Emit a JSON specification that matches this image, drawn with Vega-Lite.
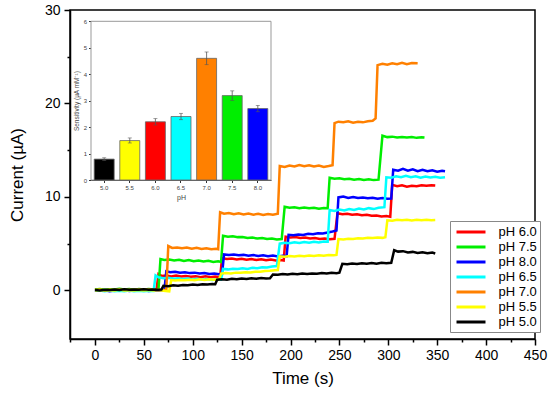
{
"$schema":"https://vega.github.io/schema/vega-lite/v6.json",
"width":465,"height":329,
"autosize":{"type":"none"},
"padding":{"left":70,"top":10,"right":15,"bottom":54},
"config":{
 "view":{"stroke":"#000","strokeWidth":1.5},
 "axis":{"grid":false,"labelFont":"Liberation Sans","titleFont":"Liberation Sans","labelColor":"#000","titleColor":"#000","titleFontWeight":"normal"},
 "legend":{"labelFont":"Liberation Sans"}
},
"layer":[
{
 "data":{"values":[
{"s":"pH 6.0","t":0,"c":0.05},{"s":"pH 6.0","t":5,"c":0.1},{"s":"pH 6.0","t":10,"c":0.0},{"s":"pH 6.0","t":15,"c":0.08},{"s":"pH 6.0","t":20,"c":0.05},{"s":"pH 6.0","t":25,"c":0.12},{"s":"pH 6.0","t":30,"c":0.06},{"s":"pH 6.0","t":35,"c":0.1},{"s":"pH 6.0","t":40,"c":0.05},{"s":"pH 6.0","t":45,"c":0.12},{"s":"pH 6.0","t":50,"c":0.08},{"s":"pH 6.0","t":55,"c":0.1},{"s":"pH 6.0","t":60,"c":0.06},{"s":"pH 6.0","t":63,"c":0.1},
{"s":"pH 6.0","t":65,"c":1.75},{"s":"pH 6.0","t":68,"c":1.55},{"s":"pH 6.0","t":73,"c":1.6},{"s":"pH 6.0","t":78,"c":1.5},{"s":"pH 6.0","t":83,"c":1.58},{"s":"pH 6.0","t":88,"c":1.48},{"s":"pH 6.0","t":93,"c":1.55},{"s":"pH 6.0","t":98,"c":1.45},{"s":"pH 6.0","t":103,"c":1.52},{"s":"pH 6.0","t":108,"c":1.42},{"s":"pH 6.0","t":113,"c":1.5},{"s":"pH 6.0","t":118,"c":1.4},{"s":"pH 6.0","t":123,"c":1.48},{"s":"pH 6.0","t":128,"c":1.42},
{"s":"pH 6.0","t":130,"c":3.45},{"s":"pH 6.0","t":135,"c":3.35},{"s":"pH 6.0","t":140,"c":3.4},{"s":"pH 6.0","t":145,"c":3.3},{"s":"pH 6.0","t":150,"c":3.38},{"s":"pH 6.0","t":155,"c":3.28},{"s":"pH 6.0","t":160,"c":3.35},{"s":"pH 6.0","t":165,"c":3.25},{"s":"pH 6.0","t":170,"c":3.32},{"s":"pH 6.0","t":175,"c":3.22},{"s":"pH 6.0","t":180,"c":3.3},{"s":"pH 6.0","t":185,"c":3.2},{"s":"pH 6.0","t":190,"c":3.26},{"s":"pH 6.0","t":193,"c":3.2},
{"s":"pH 6.0","t":195,"c":5.75},{"s":"pH 6.0","t":200,"c":5.65},{"s":"pH 6.0","t":205,"c":5.7},{"s":"pH 6.0","t":210,"c":5.6},{"s":"pH 6.0","t":215,"c":5.66},{"s":"pH 6.0","t":220,"c":5.55},{"s":"pH 6.0","t":225,"c":5.6},{"s":"pH 6.0","t":230,"c":5.5},{"s":"pH 6.0","t":235,"c":5.56},{"s":"pH 6.0","t":240,"c":5.48},{"s":"pH 6.0","t":245,"c":5.52},
{"s":"pH 6.0","t":248,"c":8.25},{"s":"pH 6.0","t":253,"c":8.15},{"s":"pH 6.0","t":258,"c":8.2},{"s":"pH 6.0","t":263,"c":8.1},{"s":"pH 6.0","t":268,"c":8.15},{"s":"pH 6.0","t":273,"c":8.05},{"s":"pH 6.0","t":278,"c":8.1},{"s":"pH 6.0","t":283,"c":8.0},{"s":"pH 6.0","t":288,"c":8.02},{"s":"pH 6.0","t":293,"c":7.92},{"s":"pH 6.0","t":298,"c":7.95},{"s":"pH 6.0","t":302,"c":7.88},
{"s":"pH 6.0","t":304,"c":11.3},{"s":"pH 6.0","t":309,"c":11.15},{"s":"pH 6.0","t":314,"c":11.25},{"s":"pH 6.0","t":319,"c":11.1},{"s":"pH 6.0","t":324,"c":11.2},{"s":"pH 6.0","t":329,"c":11.15},{"s":"pH 6.0","t":334,"c":11.25},{"s":"pH 6.0","t":339,"c":11.2},{"s":"pH 6.0","t":344,"c":11.25},{"s":"pH 6.0","t":348,"c":11.22},
{"s":"pH 7.5","t":0,"c":0.1},{"s":"pH 7.5","t":5,"c":0.15},{"s":"pH 7.5","t":10,"c":0.08},{"s":"pH 7.5","t":15,"c":0.12},{"s":"pH 7.5","t":20,"c":0.1},{"s":"pH 7.5","t":25,"c":0.18},{"s":"pH 7.5","t":30,"c":0.1},{"s":"pH 7.5","t":35,"c":0.15},{"s":"pH 7.5","t":40,"c":0.08},{"s":"pH 7.5","t":45,"c":0.14},{"s":"pH 7.5","t":50,"c":0.1},{"s":"pH 7.5","t":55,"c":0.15},{"s":"pH 7.5","t":60,"c":0.1},{"s":"pH 7.5","t":65,"c":0.12},
{"s":"pH 7.5","t":67,"c":3.35},{"s":"pH 7.5","t":71,"c":3.25},{"s":"pH 7.5","t":76,"c":3.3},{"s":"pH 7.5","t":81,"c":3.2},{"s":"pH 7.5","t":86,"c":3.28},{"s":"pH 7.5","t":91,"c":3.15},{"s":"pH 7.5","t":96,"c":3.25},{"s":"pH 7.5","t":101,"c":3.12},{"s":"pH 7.5","t":106,"c":3.2},{"s":"pH 7.5","t":111,"c":3.1},{"s":"pH 7.5","t":116,"c":3.18},{"s":"pH 7.5","t":121,"c":3.05},{"s":"pH 7.5","t":126,"c":3.12},{"s":"pH 7.5","t":129,"c":3.05},
{"s":"pH 7.5","t":131,"c":5.85},{"s":"pH 7.5","t":136,"c":5.75},{"s":"pH 7.5","t":141,"c":5.8},{"s":"pH 7.5","t":146,"c":5.7},{"s":"pH 7.5","t":151,"c":5.72},{"s":"pH 7.5","t":156,"c":5.6},{"s":"pH 7.5","t":161,"c":5.65},{"s":"pH 7.5","t":166,"c":5.55},{"s":"pH 7.5","t":171,"c":5.6},{"s":"pH 7.5","t":176,"c":5.5},{"s":"pH 7.5","t":181,"c":5.55},{"s":"pH 7.5","t":186,"c":5.45},{"s":"pH 7.5","t":191,"c":5.5},
{"s":"pH 7.5","t":194,"c":8.95},{"s":"pH 7.5","t":199,"c":8.85},{"s":"pH 7.5","t":204,"c":8.9},{"s":"pH 7.5","t":209,"c":8.8},{"s":"pH 7.5","t":214,"c":8.88},{"s":"pH 7.5","t":219,"c":8.78},{"s":"pH 7.5","t":224,"c":8.85},{"s":"pH 7.5","t":229,"c":8.75},{"s":"pH 7.5","t":234,"c":8.82},{"s":"pH 7.5","t":238,"c":8.8},
{"s":"pH 7.5","t":240,"c":12.05},{"s":"pH 7.5","t":245,"c":11.95},{"s":"pH 7.5","t":250,"c":12.0},{"s":"pH 7.5","t":255,"c":11.9},{"s":"pH 7.5","t":260,"c":11.95},{"s":"pH 7.5","t":265,"c":11.85},{"s":"pH 7.5","t":270,"c":11.92},{"s":"pH 7.5","t":275,"c":11.82},{"s":"pH 7.5","t":280,"c":11.9},{"s":"pH 7.5","t":285,"c":11.8},{"s":"pH 7.5","t":290,"c":11.85},
{"s":"pH 7.5","t":294,"c":16.55},{"s":"pH 7.5","t":299,"c":16.4},{"s":"pH 7.5","t":304,"c":16.45},{"s":"pH 7.5","t":309,"c":16.35},{"s":"pH 7.5","t":314,"c":16.42},{"s":"pH 7.5","t":319,"c":16.35},{"s":"pH 7.5","t":324,"c":16.4},{"s":"pH 7.5","t":329,"c":16.32},{"s":"pH 7.5","t":334,"c":16.38},{"s":"pH 7.5","t":337,"c":16.35},
{"s":"pH 8.0","t":0,"c":0.0},{"s":"pH 8.0","t":5,"c":-0.05},{"s":"pH 8.0","t":10,"c":0.02},{"s":"pH 8.0","t":15,"c":-0.08},{"s":"pH 8.0","t":20,"c":0.0},{"s":"pH 8.0","t":25,"c":-0.05},{"s":"pH 8.0","t":30,"c":0.03},{"s":"pH 8.0","t":35,"c":-0.06},{"s":"pH 8.0","t":40,"c":0.0},{"s":"pH 8.0","t":45,"c":-0.04},{"s":"pH 8.0","t":50,"c":0.02},{"s":"pH 8.0","t":55,"c":-0.06},{"s":"pH 8.0","t":60,"c":0.0},{"s":"pH 8.0","t":65,"c":-0.04},{"s":"pH 8.0","t":71,"c":0.0},
{"s":"pH 8.0","t":73,"c":2.05},{"s":"pH 8.0","t":77,"c":1.95},{"s":"pH 8.0","t":82,"c":2.0},{"s":"pH 8.0","t":87,"c":1.9},{"s":"pH 8.0","t":92,"c":1.95},{"s":"pH 8.0","t":97,"c":1.85},{"s":"pH 8.0","t":102,"c":1.9},{"s":"pH 8.0","t":107,"c":1.8},{"s":"pH 8.0","t":112,"c":1.85},{"s":"pH 8.0","t":117,"c":1.75},{"s":"pH 8.0","t":122,"c":1.8},{"s":"pH 8.0","t":127,"c":1.72},{"s":"pH 8.0","t":130,"c":1.75},
{"s":"pH 8.0","t":132,"c":3.85},{"s":"pH 8.0","t":137,"c":3.8},{"s":"pH 8.0","t":142,"c":3.85},{"s":"pH 8.0","t":147,"c":3.75},{"s":"pH 8.0","t":152,"c":3.8},{"s":"pH 8.0","t":157,"c":3.7},{"s":"pH 8.0","t":162,"c":3.78},{"s":"pH 8.0","t":167,"c":3.68},{"s":"pH 8.0","t":172,"c":3.75},{"s":"pH 8.0","t":177,"c":3.65},{"s":"pH 8.0","t":182,"c":3.72},{"s":"pH 8.0","t":187,"c":3.64},{"s":"pH 8.0","t":192,"c":3.7},{"s":"pH 8.0","t":196,"c":3.66},
{"s":"pH 8.0","t":198,"c":5.95},{"s":"pH 8.0","t":203,"c":5.9},{"s":"pH 8.0","t":208,"c":5.98},{"s":"pH 8.0","t":213,"c":5.92},{"s":"pH 8.0","t":218,"c":6.05},{"s":"pH 8.0","t":223,"c":6.0},{"s":"pH 8.0","t":228,"c":6.12},{"s":"pH 8.0","t":233,"c":6.08},{"s":"pH 8.0","t":238,"c":6.2},{"s":"pH 8.0","t":243,"c":6.3},{"s":"pH 8.0","t":247,"c":6.4},
{"s":"pH 8.0","t":249,"c":9.95},{"s":"pH 8.0","t":254,"c":10.05},{"s":"pH 8.0","t":259,"c":9.9},{"s":"pH 8.0","t":264,"c":10.0},{"s":"pH 8.0","t":269,"c":9.88},{"s":"pH 8.0","t":274,"c":9.95},{"s":"pH 8.0","t":279,"c":9.85},{"s":"pH 8.0","t":284,"c":9.92},{"s":"pH 8.0","t":289,"c":9.8},{"s":"pH 8.0","t":294,"c":9.88},{"s":"pH 8.0","t":299,"c":9.8},{"s":"pH 8.0","t":303,"c":9.82},
{"s":"pH 8.0","t":305,"c":12.9},{"s":"pH 8.0","t":310,"c":12.8},{"s":"pH 8.0","t":315,"c":13.0},{"s":"pH 8.0","t":320,"c":12.8},{"s":"pH 8.0","t":325,"c":12.95},{"s":"pH 8.0","t":330,"c":12.75},{"s":"pH 8.0","t":335,"c":12.9},{"s":"pH 8.0","t":340,"c":12.75},{"s":"pH 8.0","t":345,"c":12.85},{"s":"pH 8.0","t":350,"c":12.7},{"s":"pH 8.0","t":355,"c":12.8},{"s":"pH 8.0","t":358,"c":12.75},
{"s":"pH 6.5","t":0,"c":-0.05},{"s":"pH 6.5","t":5,"c":0.0},{"s":"pH 6.5","t":10,"c":-0.08},{"s":"pH 6.5","t":15,"c":-0.02},{"s":"pH 6.5","t":20,"c":-0.1},{"s":"pH 6.5","t":25,"c":-0.04},{"s":"pH 6.5","t":30,"c":-0.08},{"s":"pH 6.5","t":35,"c":-0.02},{"s":"pH 6.5","t":40,"c":-0.1},{"s":"pH 6.5","t":45,"c":-0.05},{"s":"pH 6.5","t":50,"c":-0.08},{"s":"pH 6.5","t":55,"c":-0.03},{"s":"pH 6.5","t":60,"c":-0.05},
{"s":"pH 6.5","t":62,"c":1.6},{"s":"pH 6.5","t":65,"c":1.4},{"s":"pH 6.5","t":70,"c":1.3},{"s":"pH 6.5","t":75,"c":1.35},{"s":"pH 6.5","t":80,"c":1.25},{"s":"pH 6.5","t":85,"c":1.3},{"s":"pH 6.5","t":90,"c":1.2},{"s":"pH 6.5","t":95,"c":1.28},{"s":"pH 6.5","t":100,"c":1.18},{"s":"pH 6.5","t":105,"c":1.25},{"s":"pH 6.5","t":110,"c":1.15},{"s":"pH 6.5","t":115,"c":1.22},{"s":"pH 6.5","t":120,"c":1.12},{"s":"pH 6.5","t":125,"c":1.2},{"s":"pH 6.5","t":129,"c":1.15},
{"s":"pH 6.5","t":131,"c":2.3},{"s":"pH 6.5","t":136,"c":2.25},{"s":"pH 6.5","t":141,"c":2.32},{"s":"pH 6.5","t":146,"c":2.28},{"s":"pH 6.5","t":151,"c":2.38},{"s":"pH 6.5","t":156,"c":2.3},{"s":"pH 6.5","t":161,"c":2.42},{"s":"pH 6.5","t":166,"c":2.38},{"s":"pH 6.5","t":171,"c":2.48},{"s":"pH 6.5","t":176,"c":2.45},{"s":"pH 6.5","t":181,"c":2.55},{"s":"pH 6.5","t":186,"c":2.6},
{"s":"pH 6.5","t":189,"c":5.0},{"s":"pH 6.5","t":194,"c":5.1},{"s":"pH 6.5","t":199,"c":5.05},{"s":"pH 6.5","t":204,"c":5.15},{"s":"pH 6.5","t":209,"c":5.08},{"s":"pH 6.5","t":214,"c":5.18},{"s":"pH 6.5","t":219,"c":5.1},{"s":"pH 6.5","t":224,"c":5.2},{"s":"pH 6.5","t":229,"c":5.12},{"s":"pH 6.5","t":234,"c":5.22},{"s":"pH 6.5","t":238,"c":5.2},
{"s":"pH 6.5","t":240,"c":8.6},{"s":"pH 6.5","t":245,"c":8.5},{"s":"pH 6.5","t":250,"c":8.65},{"s":"pH 6.5","t":255,"c":8.55},{"s":"pH 6.5","t":260,"c":8.7},{"s":"pH 6.5","t":265,"c":8.6},{"s":"pH 6.5","t":270,"c":8.75},{"s":"pH 6.5","t":275,"c":8.65},{"s":"pH 6.5","t":280,"c":8.8},{"s":"pH 6.5","t":285,"c":8.7},{"s":"pH 6.5","t":290,"c":8.85},{"s":"pH 6.5","t":296,"c":8.9},
{"s":"pH 6.5","t":298,"c":12.1},{"s":"pH 6.5","t":303,"c":12.05},{"s":"pH 6.5","t":308,"c":12.2},{"s":"pH 6.5","t":313,"c":12.1},{"s":"pH 6.5","t":318,"c":12.25},{"s":"pH 6.5","t":323,"c":12.1},{"s":"pH 6.5","t":328,"c":12.2},{"s":"pH 6.5","t":333,"c":12.05},{"s":"pH 6.5","t":338,"c":12.18},{"s":"pH 6.5","t":343,"c":12.08},{"s":"pH 6.5","t":348,"c":12.15},{"s":"pH 6.5","t":353,"c":12.05},{"s":"pH 6.5","t":358,"c":12.1},
{"s":"pH 7.0","t":0,"c":0.05},{"s":"pH 7.0","t":5,"c":0.1},{"s":"pH 7.0","t":10,"c":0.02},{"s":"pH 7.0","t":15,"c":0.08},{"s":"pH 7.0","t":20,"c":0.05},{"s":"pH 7.0","t":25,"c":0.1},{"s":"pH 7.0","t":30,"c":0.04},{"s":"pH 7.0","t":35,"c":0.08},{"s":"pH 7.0","t":40,"c":0.05},{"s":"pH 7.0","t":45,"c":0.1},{"s":"pH 7.0","t":50,"c":0.06},{"s":"pH 7.0","t":55,"c":0.1},{"s":"pH 7.0","t":60,"c":0.05},{"s":"pH 7.0","t":65,"c":0.08},{"s":"pH 7.0","t":70,"c":0.05},{"s":"pH 7.0","t":73,"c":0.08},
{"s":"pH 7.0","t":75,"c":4.75},{"s":"pH 7.0","t":79,"c":4.55},{"s":"pH 7.0","t":84,"c":4.6},{"s":"pH 7.0","t":89,"c":4.5},{"s":"pH 7.0","t":94,"c":4.58},{"s":"pH 7.0","t":99,"c":4.45},{"s":"pH 7.0","t":104,"c":4.55},{"s":"pH 7.0","t":109,"c":4.42},{"s":"pH 7.0","t":114,"c":4.5},{"s":"pH 7.0","t":119,"c":4.4},{"s":"pH 7.0","t":124,"c":4.45},{"s":"pH 7.0","t":126,"c":4.4},
{"s":"pH 7.0","t":128,"c":8.35},{"s":"pH 7.0","t":132,"c":8.2},{"s":"pH 7.0","t":137,"c":8.28},{"s":"pH 7.0","t":142,"c":8.15},{"s":"pH 7.0","t":147,"c":8.25},{"s":"pH 7.0","t":152,"c":8.12},{"s":"pH 7.0","t":157,"c":8.22},{"s":"pH 7.0","t":162,"c":8.1},{"s":"pH 7.0","t":167,"c":8.2},{"s":"pH 7.0","t":172,"c":8.08},{"s":"pH 7.0","t":177,"c":8.18},{"s":"pH 7.0","t":182,"c":8.1},{"s":"pH 7.0","t":187,"c":8.2},
{"s":"pH 7.0","t":189,"c":13.3},{"s":"pH 7.0","t":194,"c":13.2},{"s":"pH 7.0","t":199,"c":13.35},{"s":"pH 7.0","t":204,"c":13.25},{"s":"pH 7.0","t":209,"c":13.4},{"s":"pH 7.0","t":214,"c":13.28},{"s":"pH 7.0","t":219,"c":13.38},{"s":"pH 7.0","t":224,"c":13.25},{"s":"pH 7.0","t":229,"c":13.35},{"s":"pH 7.0","t":234,"c":13.2},{"s":"pH 7.0","t":239,"c":13.3},{"s":"pH 7.0","t":243,"c":13.4},
{"s":"pH 7.0","t":245,"c":17.9},{"s":"pH 7.0","t":249,"c":18.05},{"s":"pH 7.0","t":254,"c":18.0},{"s":"pH 7.0","t":259,"c":18.1},{"s":"pH 7.0","t":264,"c":17.95},{"s":"pH 7.0","t":269,"c":18.05},{"s":"pH 7.0","t":274,"c":17.98},{"s":"pH 7.0","t":279,"c":18.1},{"s":"pH 7.0","t":284,"c":18.15},{"s":"pH 7.0","t":287,"c":18.4},
{"s":"pH 7.0","t":289,"c":24.1},{"s":"pH 7.0","t":294,"c":24.25},{"s":"pH 7.0","t":299,"c":24.15},{"s":"pH 7.0","t":304,"c":24.3},{"s":"pH 7.0","t":309,"c":24.2},{"s":"pH 7.0","t":314,"c":24.35},{"s":"pH 7.0","t":319,"c":24.2},{"s":"pH 7.0","t":324,"c":24.32},{"s":"pH 7.0","t":330,"c":24.3},
{"s":"pH 5.5","t":0,"c":0.0},{"s":"pH 5.5","t":5,"c":0.05},{"s":"pH 5.5","t":10,"c":-0.02},{"s":"pH 5.5","t":15,"c":0.04},{"s":"pH 5.5","t":20,"c":0.0},{"s":"pH 5.5","t":25,"c":0.06},{"s":"pH 5.5","t":30,"c":0.0},{"s":"pH 5.5","t":35,"c":0.05},{"s":"pH 5.5","t":40,"c":-0.02},{"s":"pH 5.5","t":45,"c":0.04},{"s":"pH 5.5","t":50,"c":0.0},{"s":"pH 5.5","t":55,"c":0.05},{"s":"pH 5.5","t":60,"c":0.0},{"s":"pH 5.5","t":65,"c":0.04},{"s":"pH 5.5","t":70,"c":-0.05},{"s":"pH 5.5","t":76,"c":-0.1},
{"s":"pH 5.5","t":78,"c":1.1},{"s":"pH 5.5","t":82,"c":1.05},{"s":"pH 5.5","t":87,"c":1.12},{"s":"pH 5.5","t":92,"c":1.08},{"s":"pH 5.5","t":97,"c":1.15},{"s":"pH 5.5","t":102,"c":1.1},{"s":"pH 5.5","t":107,"c":1.18},{"s":"pH 5.5","t":112,"c":1.12},{"s":"pH 5.5","t":117,"c":1.2},{"s":"pH 5.5","t":122,"c":1.15},{"s":"pH 5.5","t":127,"c":1.2},
{"s":"pH 5.5","t":129,"c":1.8},{"s":"pH 5.5","t":134,"c":1.85},{"s":"pH 5.5","t":139,"c":1.82},{"s":"pH 5.5","t":144,"c":1.9},{"s":"pH 5.5","t":149,"c":1.88},{"s":"pH 5.5","t":154,"c":1.95},{"s":"pH 5.5","t":159,"c":1.92},{"s":"pH 5.5","t":164,"c":2.0},{"s":"pH 5.5","t":169,"c":2.0},{"s":"pH 5.5","t":174,"c":2.08},{"s":"pH 5.5","t":179,"c":2.1},{"s":"pH 5.5","t":184,"c":2.15},{"s":"pH 5.5","t":187,"c":2.18},
{"s":"pH 5.5","t":189,"c":3.65},{"s":"pH 5.5","t":194,"c":3.6},{"s":"pH 5.5","t":199,"c":3.68},{"s":"pH 5.5","t":204,"c":3.62},{"s":"pH 5.5","t":209,"c":3.7},{"s":"pH 5.5","t":214,"c":3.65},{"s":"pH 5.5","t":219,"c":3.72},{"s":"pH 5.5","t":224,"c":3.68},{"s":"pH 5.5","t":229,"c":3.75},{"s":"pH 5.5","t":234,"c":3.7},{"s":"pH 5.5","t":239,"c":3.78},{"s":"pH 5.5","t":244,"c":3.75},{"s":"pH 5.5","t":247,"c":3.8},
{"s":"pH 5.5","t":249,"c":5.5},{"s":"pH 5.5","t":254,"c":5.45},{"s":"pH 5.5","t":259,"c":5.52},{"s":"pH 5.5","t":264,"c":5.5},{"s":"pH 5.5","t":269,"c":5.58},{"s":"pH 5.5","t":274,"c":5.55},{"s":"pH 5.5","t":279,"c":5.62},{"s":"pH 5.5","t":284,"c":5.6},{"s":"pH 5.5","t":289,"c":5.65},{"s":"pH 5.5","t":294,"c":5.62},{"s":"pH 5.5","t":297,"c":5.68},
{"s":"pH 5.5","t":299,"c":7.5},{"s":"pH 5.5","t":304,"c":7.45},{"s":"pH 5.5","t":309,"c":7.55},{"s":"pH 5.5","t":314,"c":7.5},{"s":"pH 5.5","t":319,"c":7.55},{"s":"pH 5.5","t":324,"c":7.48},{"s":"pH 5.5","t":329,"c":7.55},{"s":"pH 5.5","t":334,"c":7.5},{"s":"pH 5.5","t":339,"c":7.55},{"s":"pH 5.5","t":344,"c":7.5},{"s":"pH 5.5","t":348,"c":7.52},
{"s":"pH 5.0","t":0,"c":0.05},{"s":"pH 5.0","t":5,"c":0.0},{"s":"pH 5.0","t":10,"c":0.08},{"s":"pH 5.0","t":15,"c":0.03},{"s":"pH 5.0","t":20,"c":0.1},{"s":"pH 5.0","t":25,"c":0.05},{"s":"pH 5.0","t":30,"c":0.12},{"s":"pH 5.0","t":35,"c":0.08},{"s":"pH 5.0","t":40,"c":0.1},{"s":"pH 5.0","t":45,"c":0.06},{"s":"pH 5.0","t":50,"c":0.12},{"s":"pH 5.0","t":55,"c":0.08},{"s":"pH 5.0","t":60,"c":0.1},{"s":"pH 5.0","t":65,"c":0.08},{"s":"pH 5.0","t":68,"c":0.1},
{"s":"pH 5.0","t":70,"c":0.5},{"s":"pH 5.0","t":75,"c":0.45},{"s":"pH 5.0","t":80,"c":0.55},{"s":"pH 5.0","t":85,"c":0.5},{"s":"pH 5.0","t":90,"c":0.58},{"s":"pH 5.0","t":95,"c":0.55},{"s":"pH 5.0","t":100,"c":0.62},{"s":"pH 5.0","t":105,"c":0.58},{"s":"pH 5.0","t":110,"c":0.65},{"s":"pH 5.0","t":115,"c":0.62},{"s":"pH 5.0","t":120,"c":0.68},{"s":"pH 5.0","t":123,"c":0.66},
{"s":"pH 5.0","t":125,"c":1.15},{"s":"pH 5.0","t":130,"c":1.2},{"s":"pH 5.0","t":135,"c":1.15},{"s":"pH 5.0","t":140,"c":1.25},{"s":"pH 5.0","t":145,"c":1.2},{"s":"pH 5.0","t":150,"c":1.28},{"s":"pH 5.0","t":155,"c":1.22},{"s":"pH 5.0","t":160,"c":1.3},{"s":"pH 5.0","t":165,"c":1.25},{"s":"pH 5.0","t":170,"c":1.32},{"s":"pH 5.0","t":175,"c":1.28},{"s":"pH 5.0","t":179,"c":1.3},
{"s":"pH 5.0","t":182,"c":1.7},{"s":"pH 5.0","t":187,"c":1.68},{"s":"pH 5.0","t":192,"c":1.75},{"s":"pH 5.0","t":197,"c":1.7},{"s":"pH 5.0","t":202,"c":1.78},{"s":"pH 5.0","t":207,"c":1.74},{"s":"pH 5.0","t":212,"c":1.8},{"s":"pH 5.0","t":217,"c":1.76},{"s":"pH 5.0","t":222,"c":1.82},{"s":"pH 5.0","t":227,"c":1.78},{"s":"pH 5.0","t":232,"c":1.85},{"s":"pH 5.0","t":237,"c":1.8},{"s":"pH 5.0","t":242,"c":1.88},{"s":"pH 5.0","t":247,"c":1.84},{"s":"pH 5.0","t":250,"c":1.9},
{"s":"pH 5.0","t":253,"c":2.85},{"s":"pH 5.0","t":258,"c":2.8},{"s":"pH 5.0","t":263,"c":2.88},{"s":"pH 5.0","t":268,"c":2.82},{"s":"pH 5.0","t":273,"c":2.9},{"s":"pH 5.0","t":278,"c":2.85},{"s":"pH 5.0","t":283,"c":2.92},{"s":"pH 5.0","t":288,"c":2.86},{"s":"pH 5.0","t":293,"c":2.95},{"s":"pH 5.0","t":298,"c":2.9},{"s":"pH 5.0","t":303,"c":2.95},
{"s":"pH 5.0","t":306,"c":4.3},{"s":"pH 5.0","t":310,"c":4.15},{"s":"pH 5.0","t":315,"c":4.2},{"s":"pH 5.0","t":320,"c":4.05},{"s":"pH 5.0","t":325,"c":4.12},{"s":"pH 5.0","t":330,"c":4.0},{"s":"pH 5.0","t":335,"c":4.08},{"s":"pH 5.0","t":340,"c":3.98},{"s":"pH 5.0","t":345,"c":4.05},{"s":"pH 5.0","t":348,"c":3.95}
 ]},
 "mark":{"type":"line","strokeWidth":2.5},
 "encoding":{
  "x":{"field":"t","type":"quantitative","scale":{"domain":[-25.5,450],"nice":false,"zero":false},
   "axis":{"orient":"bottom","title":"Time (s)","values":[-25,0,25,50,75,100,125,150,175,200,225,250,275,300,325,350,375,400,425,450],
    "labelExpr":"datum.value % 50 === 0 ? datum.label : ''","tickSize":{"condition":{"test":"datum.value % 50 === 0","value":6},"value":3},
    "domainColor":"#000","domainWidth":1.5,"tickColor":"#000","tickWidth":1.5,"labelFontSize":14,"labelPadding":3,"titleFontSize":17,"titlePadding":8,"labelFlush":false,"labelOverlap":false}},
  "y":{"field":"c","type":"quantitative","scale":{"domain":[-5.2,30],"nice":false,"zero":false},
   "axis":{"orient":"left","title":"Current (µA)","values":[0,5,10,15,20,25,30],
    "labelExpr":"datum.value % 10 === 0 ? datum.label : ''","tickSize":{"condition":{"test":"datum.value % 10 === 0","value":6},"value":3},
    "domainColor":"#000","domainWidth":1.5,"tickColor":"#000","tickWidth":1.5,"labelFontSize":14,"labelPadding":4,"titleFontSize":17,"titlePadding":18,"labelFlush":false,"labelOverlap":false}},
  "color":{"field":"s","type":"nominal",
   "scale":{"domain":["pH 6.0","pH 7.5","pH 8.0","pH 6.5","pH 7.0","pH 5.5","pH 5.0"],"range":["#ff0000","#00ee00","#0000ff","#00ffff","#ff8000","#ffff00","#000000"]},
   "legend":{"title":null,"orient":"none","legendX":380,"legendY":211,"symbolType":"M-2.23,0H2.23","symbolSize":169,"symbolStrokeWidth":3,"symbolOffset":10,"labelFontSize":13,"labelColor":"#000","strokeColor":"#888","fillColor":"#fff","padding":3,"rowPadding":-1.3,"labelOffset":19.5}}
 }
},
{
 "data":{"values":[{}]},
 "mark":{"type":"rect","fill":"#fff","stroke":"#999","strokeWidth":1},
 "encoding":{
  "x":{"datum":0,"type":"quantitative","scale":{"domain":[0,1],"range":[21,201],"nice":false,"zero":false},"axis":null},
  "x2":{"datum":1},
  "y":{"datum":0,"type":"quantitative","scale":{"domain":[0,6],"range":[170,11.3],"nice":false,"zero":false},"axis":null},
  "y2":{"datum":6}
 }
},
{
 "data":{"values":[
  {"pH":"5.0","v":0.79,"lo":0.74,"hi":0.84},
  {"pH":"5.5","v":1.49,"lo":1.40,"hi":1.59},
  {"pH":"6.0","v":2.2,"lo":2.08,"hi":2.32},
  {"pH":"6.5","v":2.4,"lo":2.28,"hi":2.52},
  {"pH":"7.0","v":4.6,"lo":4.36,"hi":4.84},
  {"pH":"7.5","v":3.19,"lo":3.01,"hi":3.37},
  {"pH":"8.0","v":2.7,"lo":2.58,"hi":2.82}
 ]},
 "layer":[
  {"mark":{"type":"bar","stroke":"#666","strokeWidth":0.8},
   "encoding":{
    "x":{"field":"pH","type":"nominal","sort":null,"scale":{"range":[21,201],"paddingInner":0.22,"paddingOuter":0.125},
     "axis":{"orient":"bottom","offset":-159,"title":"pH","labelAngle":0,"labelFontSize":6,"titleFontSize":7,"tickSize":2.5,"domainColor":"#333","tickColor":"#333","labelColor":"#444","titleColor":"#444","labelPadding":2,"titlePadding":3}},
    "y":{"field":"v","type":"quantitative","scale":{"domain":[0,6],"range":[170,11.3],"nice":false,"zero":false},
     "axis":{"orient":"left","offset":-21,"title":"Sensitivity (µA mM⁻¹)","values":[0,1,2,3,4,5,6],"format":"d","labelFontSize":6,"titleFontSize":6.5,"tickSize":2.5,"domainColor":"#333","tickColor":"#333","labelColor":"#444","titleColor":"#444","labelPadding":2,"titlePadding":4}},
    "color":{"field":"pH","type":"nominal","scale":{"domain":["5.0","5.5","6.0","6.5","7.0","7.5","8.0"],"range":["#000000","#ffff00","#ff0000","#00ffff","#ff8000","#00ee00","#0000ff"]},"legend":null}
   }},
  {"mark":{"type":"rule","color":"#555","strokeWidth":0.8},
   "encoding":{"x":{"field":"pH","type":"nominal","sort":null},"y":{"field":"lo","type":"quantitative"},"y2":{"field":"hi"}}},
  {"mark":{"type":"tick","color":"#555","thickness":0.8,"size":4},
   "encoding":{"x":{"field":"pH","type":"nominal","sort":null},"y":{"field":"hi","type":"quantitative"}}},
  {"mark":{"type":"tick","color":"#555","thickness":0.8,"size":4},
   "encoding":{"x":{"field":"pH","type":"nominal","sort":null},"y":{"field":"lo","type":"quantitative"}}}
 ]
}
],
"resolve":{"scale":{"x":"independent","y":"independent","color":"independent"},"axis":{"x":"independent","y":"independent"},"legend":{"color":"independent"}}
}
